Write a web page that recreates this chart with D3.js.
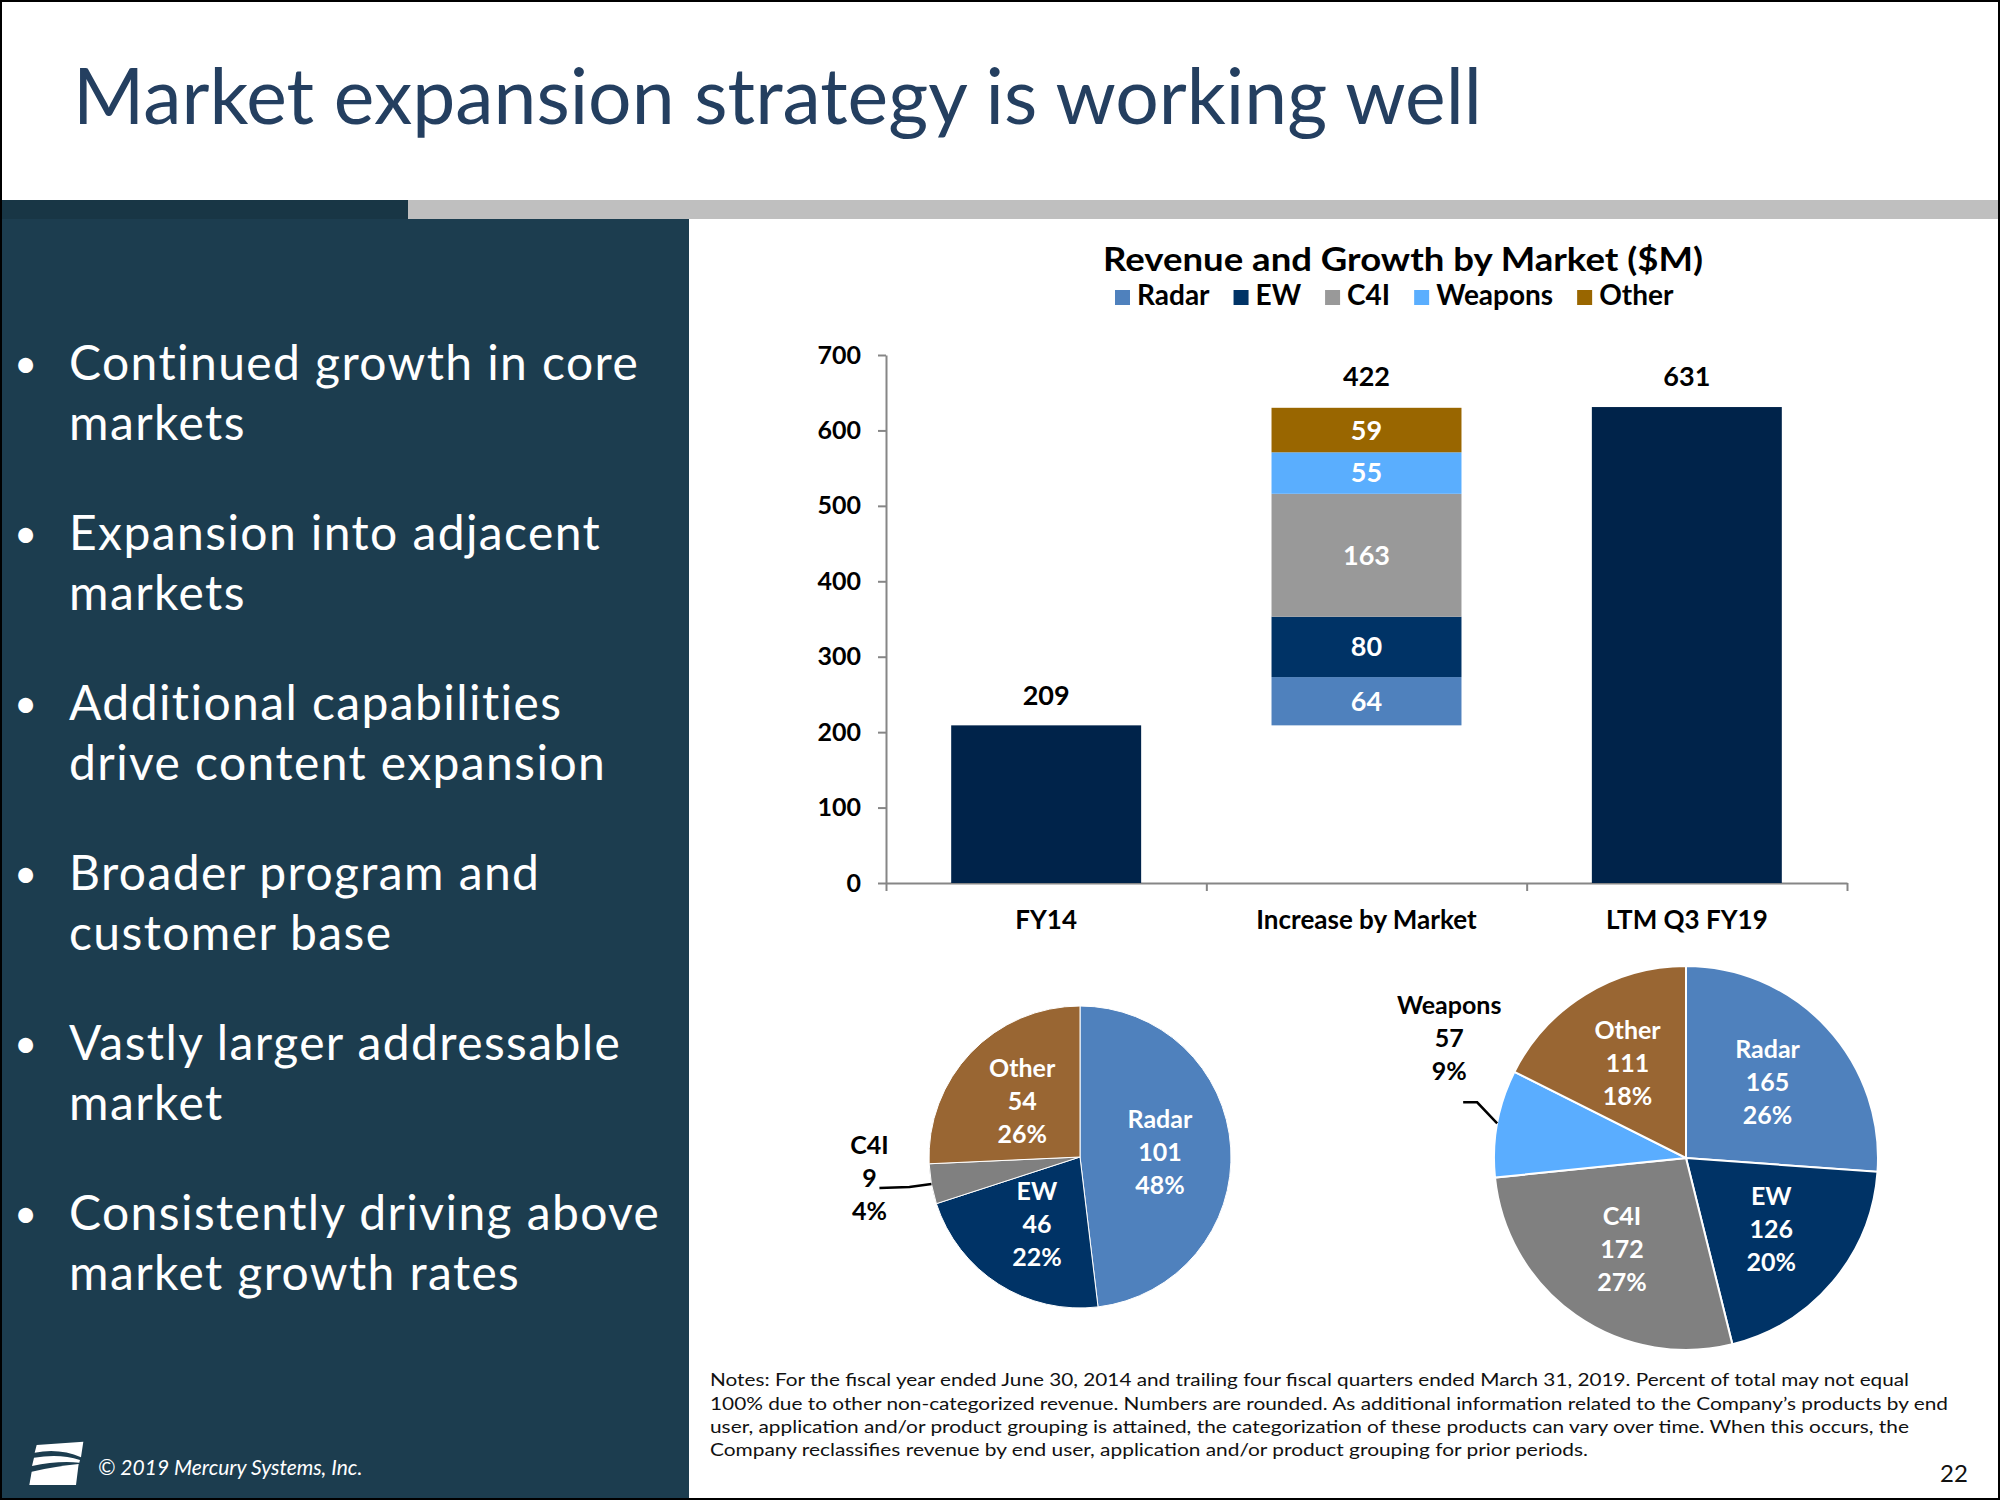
<!DOCTYPE html>
<html><head><meta charset="utf-8">
<script src="https://cdn.jsdelivr.net/npm/d3@7"></script>
<style>body{margin:0;background:#fff;} svg{display:block;font-family:Lato,'Open Sans',sans-serif;}</style>
</head><body><svg id="c" width="2000" height="1500"></svg>
<script>
// ---------------- data ----------------
const slideTitle = "Market expansion strategy is working well";
const chartTitle = "Revenue and Growth by Market ($M)";
const categories = ["FY14", "Increase by Market", "LTM Q3 FY19"];
const markets = ["Radar", "EW", "C4I", "Weapons", "Other"];
const totalCats = ["FY14", "LTM Q3 FY19"];
const totalValues = [209, 631];
const increaseValues = [64, 80, 163, 55, 59];
const increaseTotal = 422;
const yTicks = [0, 100, 200, 300, 400, 500, 600, 700];
const fy14Markets = ["Radar", "EW", "C4I", "Other"];
const fy14Values = [101, 46, 9, 54];
const fy14Pct = [48, 22, 4, 26];
const ltmMarkets = ["Radar", "EW", "C4I", "Weapons", "Other"];
const ltmValues = [165, 126, 172, 57, 111];
const ltmPct = [26, 20, 27, 9, 18];
const bullets = [
  ["Continued growth in core", "markets"],
  ["Expansion into adjacent", "markets"],
  ["Additional capabilities", "drive content expansion"],
  ["Broader program and", "customer base"],
  ["Vastly larger addressable", "market"],
  ["Consistently driving above", "market growth rates"]
];
const notes = [
  "Notes: For the fiscal year ended June 30, 2014 and trailing four fiscal quarters ended March 31, 2019.  Percent of total may not equal",
  "100% due to other non-categorized revenue. Numbers are rounded. As additional information related to the Company\u2019s products by end",
  "user, application and/or product grouping is attained, the categorization of these products can vary over time. When this occurs, the",
  "Company reclassifies revenue by end user, application and/or product grouping for prior periods."
];
const footer = "\u00A9 2019 Mercury Systems, Inc.";
const pageNum = "22";

// ---------------- styles ----------------
const barColor = {Radar:"#4f81bd", EW:"#003366", C4I:"#999999", Weapons:"#5aaefe", Other:"#996600"};
const totalColor = "#00234a";
const pieColor = {Radar:"#4f81bd", EW:"#003366", C4I:"#808080", Weapons:"#5aadff", Other:"#996633"};

const svg = d3.select("#c");
const W = 2000, H = 1500;

svg.append("rect").attr("width", W).attr("height", H).attr("fill", "#fff");
svg.append("rect").attr("x", 0).attr("y", 219).attr("width", 689).attr("height", H - 219).attr("fill", "#1c3d4f");
svg.append("rect").attr("x", 0).attr("y", 200).attr("width", 408).attr("height", 19).attr("fill", "#183645");
svg.append("rect").attr("x", 408).attr("y", 200).attr("width", W - 408).attr("height", 19).attr("fill", "#bfbfbf");

// title
svg.append("text").attr("x", 73).attr("y", 124).attr("font-size", 78)
  .attr("fill", "#243f60").text(slideTitle)
  .attr("textLength", 1409).attr("lengthAdjust", "spacingAndGlyphs");

// bullets
const bg = svg.append("g");
const bSize = 48;
let ls = 0;
{
  const probe = bg.append("text").attr("font-size", bSize).text(bullets[0][0]);
  const n = probe.node().getComputedTextLength();
  ls = (571 - n) / bullets[0][0].length;
  probe.remove();
}
bullets.forEach((lines, i) => {
  const y0 = 380 + i * 170;
  bg.append("text").attr("x", 14).attr("y", y0 - 2).attr("font-size", 40).attr("fill", "#fff").text("\u2022");
  lines.forEach((ln, j) => {
    bg.append("text").attr("x", 69).attr("y", y0 + j * 60).attr("font-size", bSize)
      .attr("letter-spacing", ls).attr("fill", "#fff").text(ln);
  });
});

// footer logo
const logo = svg.append("g").attr("transform", "translate(20,1430) scale(0.3333)").attr("fill", "#fff");
logo.append("path").attr("d", "M50,45 L190,35 L183,82 Q120,54 44,68 Z");
logo.append("path").attr("d", "M42,83 Q120,70 180,90 L178,98 Q110,92 36,108 Z");
logo.append("path").attr("d", "M35,125 Q110,108 176,102 L168,165 L28,165 Z");
svg.append("text").attr("x", 98).attr("y", 1475).attr("font-size", 21).attr("font-style", "italic")
  .attr("fill", "#fff").text(footer);

// ---------------- bar chart ----------------
const y = d3.scaleLinear().domain([0, 700]).range([883, 355]);
const x = d3.scaleBand().domain(categories).range([886, 1847]).paddingInner(0.407).paddingOuter(0.2035);
const xl = d3.scaleLinear().domain([0, categories.length]).range([886, 1847]);
const axisColor = "#868686";

svg.append("text").attr("x", 1403).attr("y", 271).attr("text-anchor", "middle")
  .attr("font-size", 33).attr("font-weight", 700).attr("fill", "#000").text(chartTitle)
  .attr("textLength", 600).attr("lengthAdjust", "spacingAndGlyphs");

// legend
const lg = svg.append("g").attr("font-size", 28).attr("font-weight", 700);
let lx = 1115;
markets.forEach(m => {
  lg.append("rect").attr("x", lx).attr("y", 290).attr("width", 15).attr("height", 15).attr("fill", barColor[m]);
  const tt = lg.append("text").attr("x", lx + 22).attr("y", 305).attr("fill", "#000").text(m);
  lx += 22 + tt.node().getComputedTextLength() + 24;
});

const gy = svg.append("g").attr("transform", "translate(886,0)")
  .call(d3.axisLeft(y).tickValues(yTicks).tickSize(8).tickSizeOuter(0).tickPadding(17));
gy.selectAll("path,line").attr("stroke", axisColor).attr("stroke-width", 2);
gy.selectAll("text").attr("font-family", "Lato").attr("font-size", 25).attr("font-weight", 700).attr("fill", "#000");

const gx = svg.append("g").attr("transform", "translate(0,883)")
  .call(d3.axisBottom(xl).tickValues(d3.range(categories.length + 1)).tickSize(8).tickSizeOuter(0).tickFormat(""));
gx.selectAll("path,line").attr("stroke", axisColor).attr("stroke-width", 2);
const gxl = svg.append("g").attr("transform", "translate(0,883)")
  .call(d3.axisBottom(x).tickSize(0).tickPadding(28));
gxl.select("path").remove();
gxl.selectAll("text").attr("font-family", "Lato").attr("font-size", 26).attr("font-weight", 700).attr("fill", "#000");

// total bars
const totals = totalCats.map((c, i) => ({c, v: totalValues[i]}));
svg.append("g").selectAll("rect").data(totals).join("rect")
  .attr("x", d => x(d.c)).attr("width", x.bandwidth())
  .attr("y", d => y(d.v)).attr("height", d => y(0) - y(d.v)).attr("fill", totalColor);
svg.append("g").selectAll("text").data(totals).join("text")
  .attr("x", d => x(d.c) + x.bandwidth() / 2).attr("y", d => y(d.v) - 30).attr("dy", "0.35em")
  .attr("text-anchor", "middle").attr("font-size", 27).attr("font-weight", 700).text(d => d.v);

// stacked increase
const cum = d3.cumsum(increaseValues);
const segs = markets.map((m, i) => ({m, v: increaseValues[i], y0: totalValues[0] + cum[i] - increaseValues[i], y1: totalValues[0] + cum[i]}));
const cx = x(categories[1]);
svg.append("g").selectAll("rect").data(segs).join("rect")
  .attr("x", cx).attr("width", x.bandwidth())
  .attr("y", d => y(d.y1)).attr("height", d => y(d.y0) - y(d.y1)).attr("fill", d => barColor[d.m]);
svg.append("g").selectAll("text").data(segs).join("text")
  .attr("x", cx + x.bandwidth() / 2).attr("y", d => y((d.y0 + d.y1) / 2)).attr("dy", "0.35em")
  .attr("text-anchor", "middle").attr("font-size", 27).attr("font-weight", 700).attr("fill", "#fff").text(d => d.v);
svg.append("text").attr("x", cx + x.bandwidth() / 2).attr("y", y(segs[segs.length - 1].y1) - 31).attr("dy", "0.35em")
  .attr("text-anchor", "middle").attr("font-size", 27).attr("font-weight", 700).text(increaseTotal);

// ---------------- pies ----------------
function drawPie(cxp, cyp, r, names, vals, pcts, stroke, labR, outsideName, outLab) {
  const data = names.map((n, i) => ({n, v: vals[i], p: pcts[i]}));
  const arcs = d3.pie().sort(null).value(d => d.v)(data);
  const arc = d3.arc().innerRadius(0).outerRadius(r);
  const lab = d3.arc().innerRadius(r * labR).outerRadius(r * labR);
  const g = svg.append("g").attr("transform", `translate(${cxp},${cyp})`);
  g.selectAll("path").data(arcs).join("path").attr("d", arc)
    .attr("fill", d => pieColor[d.data.n]).attr("stroke", "#fff").attr("stroke-width", stroke);
  arcs.forEach(a => {
    const lines = [a.data.n, a.data.v, a.data.p + "%"];
    let px, py, fill;
    if (a.data.n === outsideName) {
      const ang = (a.startAngle + a.endAngle) / 2;
      const ax = Math.sin(ang) * r, ay = -Math.cos(ang) * r;
      g.append("path").attr("d", d3.line()(outLab.leader.map(p => [ax + p[0], ay + p[1]])))
        .attr("fill", "none").attr("stroke", "#000").attr("stroke-width", 2.5);
      px = ax + outLab.dx; py = ay + outLab.dy; fill = "#000";
    } else {
      [px, py] = lab.centroid(a); fill = "#fff";
    }
    const tx = g.append("text").attr("text-anchor", "middle").attr("font-size", 25)
      .attr("font-weight", 700).attr("fill", fill);
    lines.forEach((l, k) => tx.append("tspan").attr("x", px).attr("y", py + (k - 1) * 33).attr("dy", "0.35em").text(l));
  });
}
drawPie(1080, 1157, 151, fy14Markets, fy14Values, fy14Pct, 1, 0.53, "C4I",
  {dx: -62, dy: -6, leader: [[0, 0], [-22, 3], [-52, 4]]});
drawPie(1686, 1158, 192, ltmMarkets, ltmValues, ltmPct, 2, 0.58, "Weapons",
  {dx: -48, dy: -85, leader: [[0, 0], [-20, -21], [-34, -21]]});

// notes
const ng = svg.append("g").attr("font-size", 18).attr("fill", "#111");
const noteW = [1199, 1238, 1199, 878];
notes.forEach((n, i) => {
  ng.append("text").attr("x", 710).attr("y", 1380 + i * 23.3).attr("dy", "0.35em").text(n)
    .attr("textLength", noteW[i]).attr("lengthAdjust", "spacingAndGlyphs");
});
svg.append("text").attr("x", 1954).attr("y", 1474).attr("dy", "0.35em").attr("text-anchor", "middle")
  .attr("font-size", 24).attr("fill", "#111").text(pageNum);

// border
svg.append("rect").attr("x", 1).attr("y", 1).attr("width", W - 2).attr("height", H - 2)
  .attr("fill", "none").attr("stroke", "#000").attr("stroke-width", 2);
</script></body></html>
